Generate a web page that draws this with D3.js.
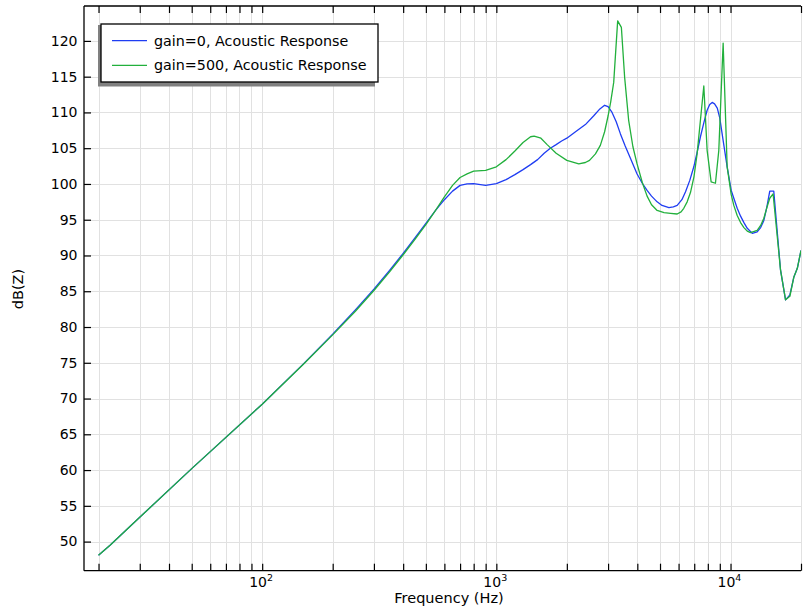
<!DOCTYPE html>
<html>
<head>
<meta charset="utf-8">
<script src="https://cdn.jsdelivr.net/npm/d3@7"></script>
<style>
  body { margin: 0; background: #fff; }
  svg { display: block; }
  text { font-family: "DejaVu Sans", sans-serif; fill: #000; }
</style>
</head>
<body>
<svg id="chart" width="806" height="609"></svg>
<script>
// ---- data ----
const freqGain0 = [20, 22.4, 30, 50, 100, 150, 200, 250, 300, 350, 400, 450, 500, 550, 600, 650, 700, 750, 800, 900, 1000, 1100, 1200, 1300, 1400, 1500, 1600, 1700, 1800, 1900, 2000, 2200, 2400, 2600, 2750, 2900, 3000, 3120, 3250, 3388, 3550, 3737, 3990, 4200, 4403, 4600, 4860, 5100, 5457, 5700, 5919, 6200, 6426, 6700, 6970, 7200, 7440, 7700, 7946, 8150, 8350, 8550, 8780, 9000, 9210, 9450, 9676, 10070, 10330, 10680, 11040, 11410, 11790, 12380, 13000, 13450, 13880, 14300, 14710, 15300, 16350, 17180, 17930, 18650, 19290, 20000];
const dbGain0 = [48.1, 49.5, 53.4, 60.2, 69.2, 74.85, 79.0, 82.4, 85.3, 87.9, 90.3, 92.5, 94.5, 96.3, 97.8, 99.0, 99.8, 100.0, 100.05, 99.8, 100.05, 100.6, 101.3, 102.0, 102.7, 103.4, 104.3, 105.0, 105.5, 106.0, 106.4, 107.4, 108.3, 109.5, 110.4, 111.0, 110.8, 110.0, 108.7, 107.0, 105.3, 103.6, 101.4, 100.1, 99.1, 98.3, 97.5, 97.0, 96.7, 96.8, 97.0, 97.8, 98.9, 100.5, 102.4, 104.4, 106.6, 108.6, 110.3, 111.1, 111.4, 111.2, 110.6, 109.2, 107.0, 104.6, 102.4, 99.1, 98.0, 96.6, 95.5, 94.6, 93.8, 93.1, 93.3, 93.9, 94.9, 96.8, 99.0, 99.0, 88.0, 83.8, 84.5, 87.0, 88.2, 90.7];

const freqGain500 = [20, 22.4, 30, 50, 100, 150, 200, 250, 300, 350, 400, 450, 500, 550, 600, 650, 700, 750, 800, 900, 1000, 1100, 1200, 1300, 1400, 1450, 1550, 1648, 1800, 2000, 2249, 2400, 2500, 2650, 2780, 2900, 3000, 3080, 3171, 3297, 3419, 3531, 3673, 3830, 3990, 4200, 4403, 4600, 4860, 5200, 5545, 5919, 6150, 6316, 6530, 6745, 6980, 7200, 7691, 7946, 8265, 8623, 8913, 9301, 9676, 10070, 10330, 10680, 11040, 11410, 11790, 12170, 13000, 13450, 13880, 14300, 14710, 15200, 16350, 17180, 17930, 18650, 19290, 20000];
const dbGain500 = [48.1, 49.5, 53.4, 60.2, 69.2, 74.8, 78.9, 82.2, 85.1, 87.7, 90.1, 92.3, 94.3, 96.3, 98.2, 99.8, 100.9, 101.4, 101.8, 101.9, 102.4, 103.4, 104.6, 105.8, 106.6, 106.7, 106.4, 105.5, 104.3, 103.3, 102.8, 103.0, 103.3, 104.2, 105.4, 107.3, 109.5, 111.5, 114.2, 122.8, 121.9, 114.9, 108.9, 105.2, 102.8, 100.2, 98.3, 97.1, 96.3, 96.0, 95.9, 95.8, 96.1, 96.6, 97.5, 98.8, 101.0, 104.2, 113.7, 104.7, 100.3, 100.1, 104.7, 119.7, 102.4, 98.5, 97.0, 95.6, 94.6, 93.9, 93.4, 93.2, 93.5, 94.2, 95.2, 96.7, 98.0, 98.6, 88.0, 83.8, 84.3, 87.0, 88.2, 90.7];

const seriesNames = ["gain=0, Acoustic Response", "gain=500, Acoustic Response"];
const seriesColors = ["#1f3df2", "#22b03c"];
const yTicks = [50, 55, 60, 65, 70, 75, 80, 85, 90, 95, 100, 105, 110, 115, 120];
const xMajorTicks = [100, 1000, 10000];
const xMajorExp = ["2", "3", "4"];
const xTicks = [20, 30, 40, 50, 60, 70, 80, 90, 100, 200, 300, 400, 500, 600, 700, 800, 900, 1000, 2000, 3000, 4000, 5000, 6000, 7000, 8000, 9000, 10000, 20000];

(function () {
  // ---- layout ----
  const svg = d3.select("#chart");
  const pL = 84, pR = 801, pT = 6, pB = 570.7;

  const x = d3.scaleLog().domain([17.34, 20000]).range([pL, pR]);
  const y = d3.scaleLinear().domain([45.93, 124.88]).range([pB, pT]);

  // grid
  const grid = svg.append("g").attr("stroke", "#e1e1e1").attr("stroke-width", 1);
  grid.selectAll("line.v").data(xTicks).join("line").attr("class", "v")
    .attr("x1", d => Math.round(x(d)) + 0.5).attr("x2", d => Math.round(x(d)) + 0.5)
    .attr("y1", pT).attr("y2", pB);
  grid.selectAll("line.h").data(yTicks).join("line").attr("class", "h")
    .attr("y1", d => Math.round(y(d)) + 0.5).attr("y2", d => Math.round(y(d)) + 0.5)
    .attr("x1", pL).attr("x2", pR);

  // curves
  svg.append("clipPath").attr("id", "clip").append("rect")
    .attr("x", pL).attr("y", pT).attr("width", pR - pL).attr("height", pB - pT);
  const lineGen = d3.line().x(d => x(d[0])).y(d => y(d[1]));
  const series = [
    d3.zip(freqGain0, dbGain0),
    d3.zip(freqGain500, dbGain500)
  ];
  svg.append("g").attr("clip-path", "url(#clip)")
    .selectAll("path").data(series).join("path")
    .attr("d", lineGen)
    .attr("fill", "none")
    .attr("stroke", (d, i) => seriesColors[i])
    .attr("stroke-width", 1.3)
    .attr("stroke-linejoin", "round");

  // axes (inward ticks)
  const bottomAxis = d3.axisBottom(x).tickValues(xTicks).tickSize(-7).tickFormat("");
  const topAxis = d3.axisTop(x).tickValues(xTicks).tickSize(-7).tickFormat("");
  const leftAxis = d3.axisLeft(y).tickValues(yTicks).tickSize(-7).tickFormat("");

  function styleAxis(g) {
    g.select(".domain").attr("stroke", "#000").attr("stroke-width", 1.3);
    g.selectAll(".tick line").attr("stroke", "#000").attr("stroke-width", 1.2);
  }
  svg.append("g").attr("transform", `translate(0,${pB})`).call(bottomAxis).call(styleAxis)
    .select(".domain").attr("d", `M${pL},0H${pR}`);
  svg.append("g").attr("transform", `translate(0,${pT})`).call(topAxis).call(styleAxis)
    .select(".domain").attr("d", `M${pL},0H${pR}`);
  svg.append("g").attr("transform", `translate(${pL},0)`).call(leftAxis).call(styleAxis)
    .select(".domain").attr("d", `M0,${pT}V${pB}`);

  // y tick labels
  svg.append("g").selectAll("text").data(yTicks).join("text")
    .attr("x", 77.5).attr("y", d => y(d))
    .attr("dy", "0.35em").attr("text-anchor", "end")
    .attr("font-size", 14).text(d => d);

  // x major labels 10^n
  const xl = svg.append("g").selectAll("text").data(xMajorTicks).join("text")
    .attr("x", d => x(d) - 13).attr("y", 587)
    .attr("text-anchor", "start").attr("font-size", 14);
  xl.append("tspan").text("10");
  xl.append("tspan").attr("font-size", 9.5).attr("dy", -6).text((d, i) => xMajorExp[i]);

  // axis titles
  svg.append("text").attr("x", 449).attr("y", 602.5).attr("text-anchor", "middle")
    .attr("font-size", 14.5).text("Frequency (Hz)");
  svg.append("text").attr("transform", "translate(23,289) rotate(-90)")
    .attr("text-anchor", "middle").attr("font-size", 14.5).text("dB(Z)");

  // legend
  const lg = svg.append("g");
  const lgX = 101, lgY = 24, lgW = 277, lgH = 58;
  lg.append("rect").attr("x", lgX - 3).attr("y", lgY + 1).attr("width", lgW).attr("height", lgH + 3.5)
    .attr("fill", "#808080");
  lg.append("rect").attr("x", lgX).attr("y", lgY).attr("width", lgW).attr("height", lgH)
    .attr("fill", "#fff").attr("stroke", "#000").attr("stroke-width", 1.3);
  seriesNames.forEach((name, i) => {
    const yy = 40.7 + i * 24.6;
    lg.append("line").attr("x1", 112).attr("x2", 147).attr("y1", yy).attr("y2", yy)
      .attr("stroke", seriesColors[i]).attr("stroke-width", 1.3);
    lg.append("text").attr("x", 154).attr("y", yy).attr("dy", "0.35em")
      .attr("font-size", 14.3).text(name);
  });
})();
</script>
</body>
</html>
